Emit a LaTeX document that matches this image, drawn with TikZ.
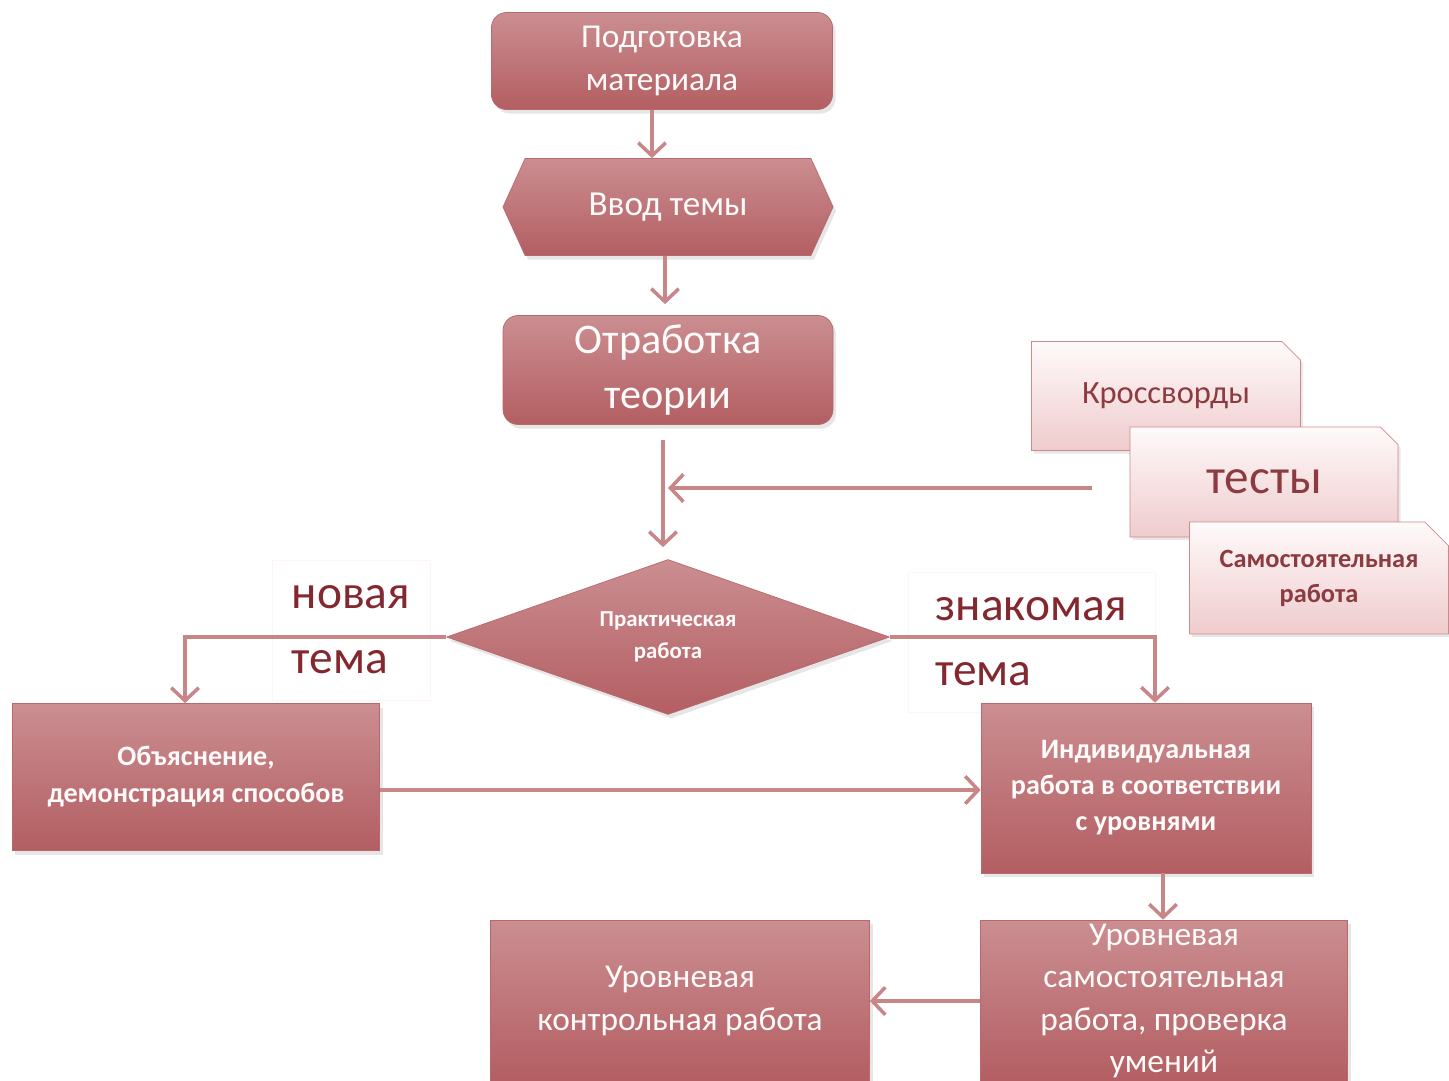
\documentclass[tikz,border=0pt]{standalone}
\usepackage{fontspec}
\setmainfont{Carlito}
\usetikzlibrary{shapes, arrows.meta, positioning, shadows}
\definecolor{boxtop}{HTML}{CB8E91}
\definecolor{boxbot}{HTML}{B35E62}
\definecolor{boxline}{HTML}{B9686C}
\definecolor{arrowc}{HTML}{C98689}
\definecolor{paletop}{HTML}{FFFAFA}
\definecolor{palebot}{HTML}{EFCBCD}
\definecolor{paleline}{HTML}{CD8A8D}
\definecolor{darktext}{HTML}{842830}
\definecolor{midtext}{HTML}{8C3B40}
\tikzstyle{stage} = [rectangle, draw=boxline, top color=boxtop, bottom color=boxbot, text=white!94!pink, align=center, inner sep=0pt, drop shadow={opacity=0.2, shadow xshift=0.6mm, shadow yshift=-0.8mm}]
\tikzstyle{extra} = [chamfered rectangle, chamfered rectangle corners=north east, chamfered rectangle xsep=0.36cm, draw=paleline, top color=paletop, bottom color=palebot, text=midtext, align=center, inner sep=0pt, drop shadow={opacity=0.18, shadow xshift=0.5mm, shadow yshift=-0.6mm}]
\tikzstyle{tag} = [rectangle, draw=pink!15, fill=white, text=darktext, align=left, minimum height=2.8cm, font=\fontsize{27}{37}\selectfont]
\tikzstyle{arr} = [draw=arrowc, line width=2pt, -{Straight Barb[length=2.6mm, width=5.5mm]}]

\begin{document}
\begin{tikzpicture}[node distance=3cm]
\useasboundingbox (0,0) rectangle (28.98,-21.62);
% main column
\node (prep) [stage, rounded corners=0.3cm, minimum width=6.82cm, minimum height=1.94cm, font=\fontsize{19}{24}\selectfont] at (13.24,-1.22) {Подготовка\\материала};
\node (intro) [stage, signal, signal to=west and east, signal pointer angle=131, minimum width=6.6cm, minimum height=1.94cm, font=\fontsize{20}{24}\selectfont, below of=prep, xshift=0.12cm, yshift=0.08cm] {Ввод темы};
\node (theory) [stage, rounded corners=0.3cm, minimum width=6.6cm, minimum height=2.18cm, font=\fontsize{24}{31}\selectfont, below of=intro, yshift=-0.26cm] {Отработка\\теории};
\node (prac) [stage, diamond, aspect=2.86, minimum width=8.86cm, minimum height=3.1cm, font=\bfseries\fontsize{13}{18}\selectfont, below of=theory, yshift=-2.34cm] {Практическая\\работа};

% branch labels
\node (newlbl) [tag, minimum width=3.16cm, left of=prac, xshift=-3.34cm, yshift=0.14cm] {новая\\тема};
\node (knownlbl) [tag, minimum width=4.94cm, right of=prac, xshift=4.27cm, yshift=-0.1cm] {знакомая\\тема};

% branches
\node (expl) [stage, minimum width=7.34cm, minimum height=2.94cm, font=\bfseries\fontsize{16}{21}\selectfont, below of=prac, xshift=-9.44cm, yshift=0.2cm] {Объяснение,\\демонстрация способов};
\node (indiv) [stage, minimum width=6.6cm, minimum height=3.4cm, font=\bfseries\fontsize{16}{20.5}\selectfont, below of=prac, xshift=9.56cm, yshift=-0.02cm] {Индивидуальная\\работа в соответствии\\с уровнями};
\node (selfw) [stage, minimum width=7.34cm, minimum height=3.24cm, font=\fontsize{19}{24}\selectfont, below of=indiv, xshift=0.36cm, yshift=-1.26cm] {Уровневая\\самостоятельная\\работа, проверка\\умений};
\node (ctrl) [stage, minimum width=7.58cm, minimum height=3.24cm, font=\fontsize{19}{24}\selectfont, left of=selfw, xshift=-6.68cm] {Уровневая\\контрольная работа};

% forms of practice
\node (cross) [extra, minimum width=5.38cm, minimum height=2.18cm, font=\fontsize{18.5}{22}\selectfont] at (23.32,-7.92) {Кроссворды};
\node (tests) [extra, minimum width=5.36cm, minimum height=2.2cm, font=\fontsize{28}{32}\selectfont, below of=cross, xshift=1.96cm, yshift=1.28cm] {тесты};
\node (samost) [extra, minimum width=5.18cm, minimum height=2.24cm, font=\bfseries\fontsize{15}{20}\selectfont, below of=tests, xshift=1.1cm, yshift=1.08cm] {Самостоятельная\\работа};
\coordinate (feed) at ([xshift=-0.76cm, yshift=-0.12cm]tests.west);

\draw [arr] ([xshift=-0.2cm]prep.south) -- ([xshift=-0.2cm]prep.south |- intro.north);
\draw [arr, shorten >=0.22cm] ([xshift=-0.06cm]intro.south) -- ([xshift=-0.06cm]intro.south |- theory.north);
\draw [arr, shorten <=0.3cm, shorten >=0.24cm] ([xshift=-0.1cm]theory.south) -- ([xshift=-0.1cm]prac.north);
\draw [arr] (feed) -- (feed -| theory.south);
\draw [arr] (prac.west) -| ([xshift=-0.22cm]expl.north);
\draw [arr] (prac.east) -| ([xshift=0.18cm]indiv.north);
\draw [arr] ([yshift=-0.26cm]expl.east) -- ([yshift=-0.26cm]expl.east -| indiv.west);
\draw [arr] ([xshift=0.34cm]indiv.south) -- ([xshift=0.34cm]indiv.south |- selfw.north);
\draw [arr] (selfw.west) -- (ctrl.east);
\end{tikzpicture}
\end{document}
